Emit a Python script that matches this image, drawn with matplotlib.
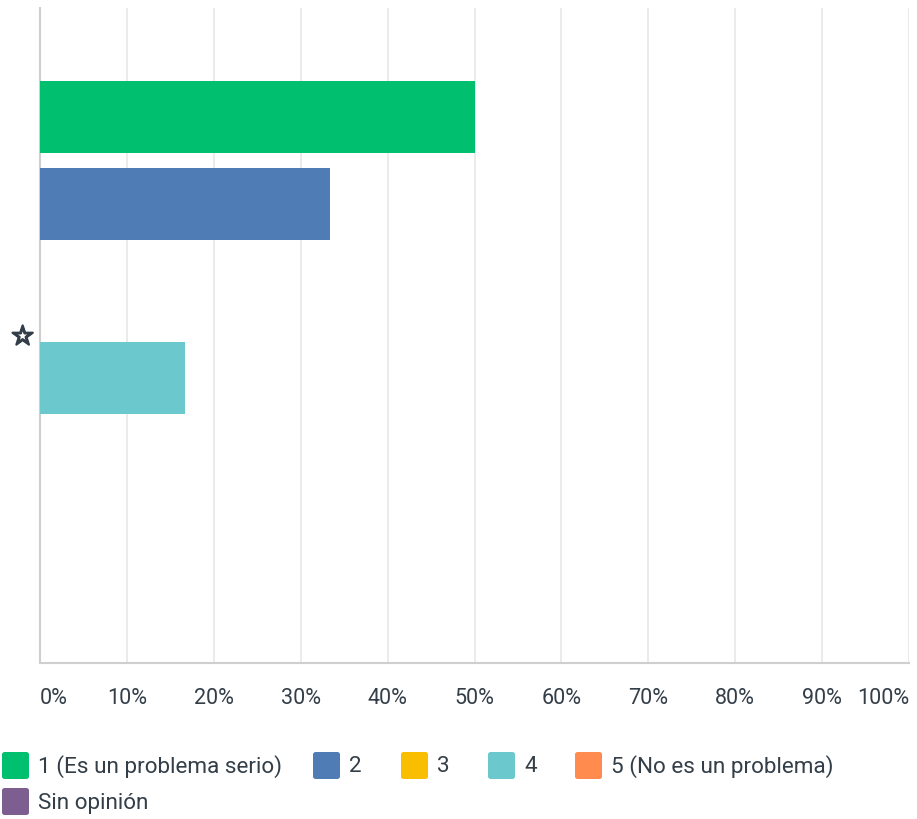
import matplotlib
matplotlib.use("Agg")
import matplotlib.pyplot as plt
import matplotlib.patheffects as pe
from matplotlib.patches import FancyBboxPatch
from matplotlib.transforms import blended_transform_factory

# survey answer shares (percent) for the single question
labels = ["1 (Es un problema serio)", "2", "3", "4", "5 (No es un problema)", "Sin opinión"]
values = [50.0, 33.33, 0.0, 16.67, 0.0, 0.0]
colors = ["#00bf6f", "#507cb6", "#f9be00", "#6bc8cd", "#ff8b4f", "#7d5e90"]
category = "☆"
ticks = list(range(0, 101, 10))
tick_labels = [f"{t}%" for t in ticks]

plt.rcParams["font.family"] = ["Roboto", "DejaVu Sans"]
text_color = "#333e48"

W, H = 917, 819
fig = plt.figure(figsize=(W / 100, H / 100), dpi=100)
ax = fig.add_axes([40 / W, 1 - 663 / H, 869 / W, 655 / H])

pos = list(range(len(values)))
ax.barh(pos, values, height=72 / 87, color=colors, zorder=3)

ax.set_xlim(0, 100)
ax.set_ylim((663 - 117) / 87, (8 - 117) / 87)

# percent labels below the axis; the end labels are kept inside the plot width
ax.set_xticks(ticks)
ax.set_xticklabels([])
label_tr = blended_transform_factory(ax.transData, fig.transFigure)
for t, lab in zip(ticks, tick_labels):
    ha = "left" if t == 0 else ("right" if t == 100 else "center")
    ax.text(t, 1 - 698 / H, lab, transform=label_tr,
            ha=ha, va="center", fontsize=15.5, color=text_color)
ax.tick_params(axis="x", length=0)
ax.grid(axis="x", color="#e8e8e8", linewidth=1.2, zorder=0)

ax.set_yticks([(len(values) - 1) / 2])
ax.set_yticklabels([category], family=["DejaVu Sans"], fontsize=19, color=text_color)
for tl in ax.get_yticklabels():
    tl.set_path_effects([pe.withStroke(linewidth=1.6, foreground=text_color)])
ax.tick_params(axis="y", length=0, pad=4)

for s in ["top", "right"]:
    ax.spines[s].set_visible(False)
ax.spines["left"].set_color("#cfcfcf")
ax.spines["left"].set_linewidth(1.5)
ax.spines["bottom"].set_color("#cfcfcf")
ax.spines["bottom"].set_linewidth(1.5)

# legend built by hand: rounded swatches followed by their labels
legend_slots = [(2, 752), (313, 752), (401, 752), (488, 752), (575, 752), (2, 788)]
for (x, y), lab, c in zip(legend_slots, labels, colors):
    box = FancyBboxPatch((x / W, 1 - (y + 27) / H), 27 / W, 27 / H,
                         boxstyle="round,pad=0,rounding_size=0.003",
                         transform=fig.transFigure, facecolor=c, edgecolor="none")
    fig.patches.append(box)
    fig.text((x + 36) / W, 1 - (y + 15) / H, lab, ha="left", va="center",
             fontsize=16.2, color=text_color)

fig.savefig("out.png", dpi=100)
